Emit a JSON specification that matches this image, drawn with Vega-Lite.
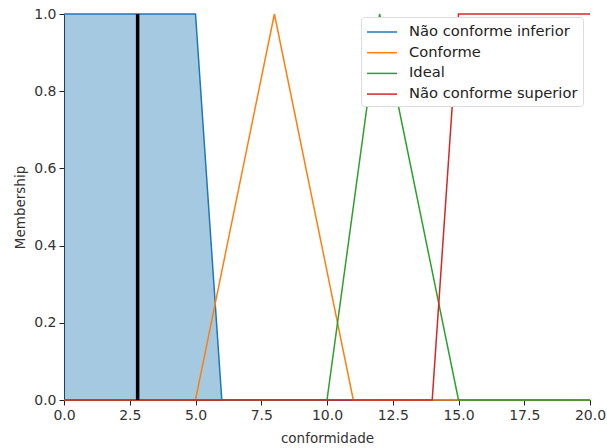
{
  "$schema": "https://vega.github.io/schema/vega-lite/v6.json",
  "autosize": {"type": "none"},
  "padding": {"left": 64, "top": 14, "right": 17, "bottom": 48},
  "width": 526,
  "height": 386,
  "config": {
    "font": "DejaVu Sans",
    "view": {"stroke": null},
    "axis": {
      "grid": false,
      "domainColor": "#222",
      "tickColor": "#222",
      "labelColor": "#333",
      "titleColor": "#333",
      "labelFontSize": 14,
      "titleFontSize": 13.5,
      "titleFontWeight": "normal",
      "tickSize": 5,
      "labelPadding": 3,
      "labelFlush": false
    }
  },
  "datasets": {
    "mf": [
      {"x": 0, "y": 1, "set": "Não conforme inferior"},
      {"x": 5, "y": 1, "set": "Não conforme inferior"},
      {"x": 6, "y": 0, "set": "Não conforme inferior"},
      {"x": 20, "y": 0, "set": "Não conforme inferior"},
      {"x": 0, "y": 0, "set": "Conforme"},
      {"x": 5, "y": 0, "set": "Conforme"},
      {"x": 8, "y": 1, "set": "Conforme"},
      {"x": 11, "y": 0, "set": "Conforme"},
      {"x": 20, "y": 0, "set": "Conforme"},
      {"x": 0, "y": 0, "set": "Ideal"},
      {"x": 10, "y": 0, "set": "Ideal"},
      {"x": 12, "y": 1, "set": "Ideal"},
      {"x": 15, "y": 0, "set": "Ideal"},
      {"x": 20, "y": 0, "set": "Ideal"},
      {"x": 0, "y": 0, "set": "Não conforme superior"},
      {"x": 14, "y": 0, "set": "Não conforme superior"},
      {"x": 15, "y": 1, "set": "Não conforme superior"},
      {"x": 20, "y": 1, "set": "Não conforme superior"}
    ],
    "fill": [
      {"x": 0, "y": 1},
      {"x": 5, "y": 1},
      {"x": 6, "y": 0}
    ],
    "input": [
      {"x": 2.8, "y0": 0, "y1": 1}
    ]
  },
  "layer": [
    {
      "data": {"name": "fill"},
      "mark": {"type": "area", "color": "#1f77b4", "opacity": 0.4},
      "encoding": {
        "x": {"field": "x", "type": "quantitative"},
        "y": {"field": "y", "type": "quantitative"}
      }
    },
    {
      "data": {"name": "mf"},
      "mark": {"type": "line", "strokeWidth": 1.5},
      "encoding": {
        "x": {
          "field": "x", "type": "quantitative",
          "scale": {"domain": [0, 20], "nice": false, "zero": false},
          "axis": {"values": [0, 2.5, 5, 7.5, 10, 12.5, 15, 17.5, 20], "format": ".1f", "title": "conformidade", "titlePadding": 9}
        },
        "y": {
          "field": "y", "type": "quantitative",
          "scale": {"domain": [0, 1], "nice": false},
          "axis": {"values": [0, 0.2, 0.4, 0.6, 0.8, 1.0], "format": ".1f", "title": "Membership", "titlePadding": 6}
        },
        "color": {
          "field": "set", "type": "nominal",
          "scale": {
            "domain": ["Não conforme inferior", "Conforme", "Ideal", "Não conforme superior"],
            "range": ["#1f77b4", "#ff7f0e", "#2ca02c", "#d62728"]
          },
          "legend": {
            "title": null,
            "orient": "none",
            "legendX": 297,
            "legendY": 3,
            "symbolType": "M-1,0H2.333",
            "symbolSize": 324,
            "symbolStrokeWidth": 1.5,
            "symbolFillColor": "transparent",
            "labelFontSize": 14.7,
            "labelLimit": 400,
            "labelOffset": 23,
            "labelColor": "#222",
            "padding": 5,
            "strokeColor": "#ddd",
            "fillColor": "white",
            "cornerRadius": 3,
            "rowPadding": 3.7
          }
        }
      }
    },
    {
      "data": {"name": "input"},
      "mark": {"type": "rule", "color": "black", "strokeWidth": 3.5},
      "encoding": {
        "x": {"field": "x", "type": "quantitative"},
        "y": {"field": "y0", "type": "quantitative"},
        "y2": {"field": "y1"}
      }
    }
  ]
}
